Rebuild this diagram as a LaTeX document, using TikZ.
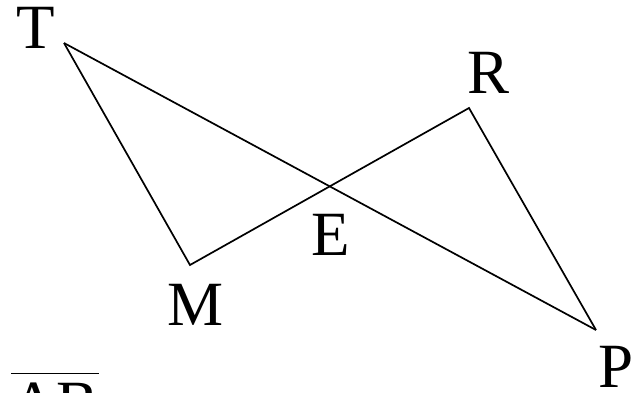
\documentclass[tikz,border=0pt]{standalone}
\usepackage{fontspec}
\setmainfont{Liberation Serif}
\newcommand{\segname}[1]{\vbox{\hrule height 1.8pt\kern 8pt\hbox{#1}}}
\begin{document}
\begin{tikzpicture}[x=1pt,y=-1pt,line width=1.7pt,
  lbl/.style={anchor=base,inner sep=0pt,font=\fontsize{63}{70}\selectfont}]
\useasboundingbox (0,0) rectangle (643,392);

% Vertices
\coordinate (t) at (64,43);
\coordinate (m) at (190,265);
\coordinate (r) at (469,108);
\coordinate (p) at (596,330);

% Sides
\draw (t)--(p);
\draw (t)--(m)--(r)--(p);

% Letters
\node[lbl] (T) at (36,48) {T};
\node[lbl] (R) at (489,93) {R};
\node[lbl] (E) at (331,255) {E};
\node[lbl] (M) at (196,325) {M};
\node[lbl] (P) at (616,387) {P};

% Segment name
\node[lbl] (AB) at (55,424) {\segname{AB}};

\end{tikzpicture}
\end{document}
